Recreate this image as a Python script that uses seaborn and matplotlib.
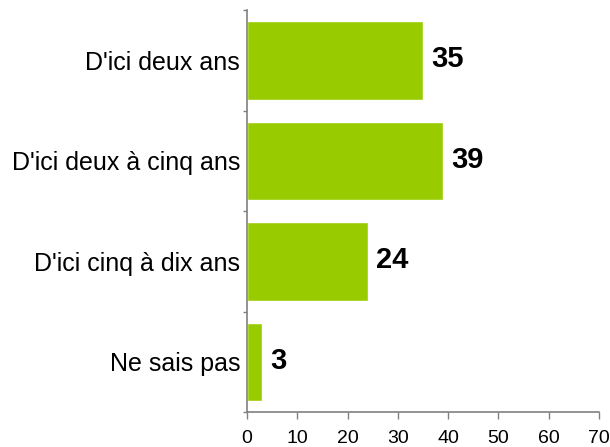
import matplotlib
matplotlib.use("Agg")
import matplotlib.pyplot as plt
import seaborn as sns
import pandas as pd

# values
categories = ["D'ici deux ans", "D'ici deux à cinq ans", "D'ici cinq à dix ans", "Ne sais pas"]
values = [35, 39, 24, 3]
x_ticks = [0, 10, 20, 30, 40, 50, 60, 70]

BAR_COLOR = "#99CC00"
AXIS_COLOR = "#808080"

sns.set_style("white")
plt.rcParams["font.family"] = ["Liberation Sans", "DejaVu Sans"]
plt.rcParams["text.color"] = "black"
plt.rcParams["xtick.labelcolor"] = "black"
plt.rcParams["ytick.labelcolor"] = "black"

df = pd.DataFrame({"category": categories, "value": values})

fig = plt.figure(figsize=(6.1, 4.47), dpi=100)
ax = fig.add_axes([0.405, 0.078, 0.577, 0.899])

sns.barplot(data=df, x="value", y="category", orient="h", color=BAR_COLOR,
            saturation=1, width=0.78, ax=ax)

for patch, v in zip(ax.patches, values):
    y = patch.get_y() + patch.get_height() / 2
    ax.annotate(str(v), xy=(patch.get_width(), y), xytext=(6, 1),
                textcoords="offset points", ha="left", va="center",
                fontsize=21, fontweight="bold", color="black")

ax.set_xlim(0, 70)
ax.set_ylim(len(categories) - 0.5, -0.5)
ax.set_xticks(x_ticks)
ax.set_xlabel("")
ax.set_ylabel("")

# category ticks sit between bars, labels centred on bars
ax.set_yticks([i - 0.5 for i in range(len(categories) + 1)], minor=True)
ax.tick_params(axis="y", which="major", length=0, labelsize=18, pad=5,
               labelcolor="black")
ax.tick_params(axis="y", which="minor", length=3, width=1, color=AXIS_COLOR, left=True)
ax.tick_params(axis="x", which="major", length=5, width=1, color=AXIS_COLOR,
               labelsize=14, pad=8, bottom=True, labelcolor="black")

for side in ["top", "right"]:
    ax.spines[side].set_visible(False)
for side in ["left", "bottom"]:
    ax.spines[side].set_color(AXIS_COLOR)
    ax.spines[side].set_linewidth(1.2)

fig.savefig("out.png", dpi=100)
